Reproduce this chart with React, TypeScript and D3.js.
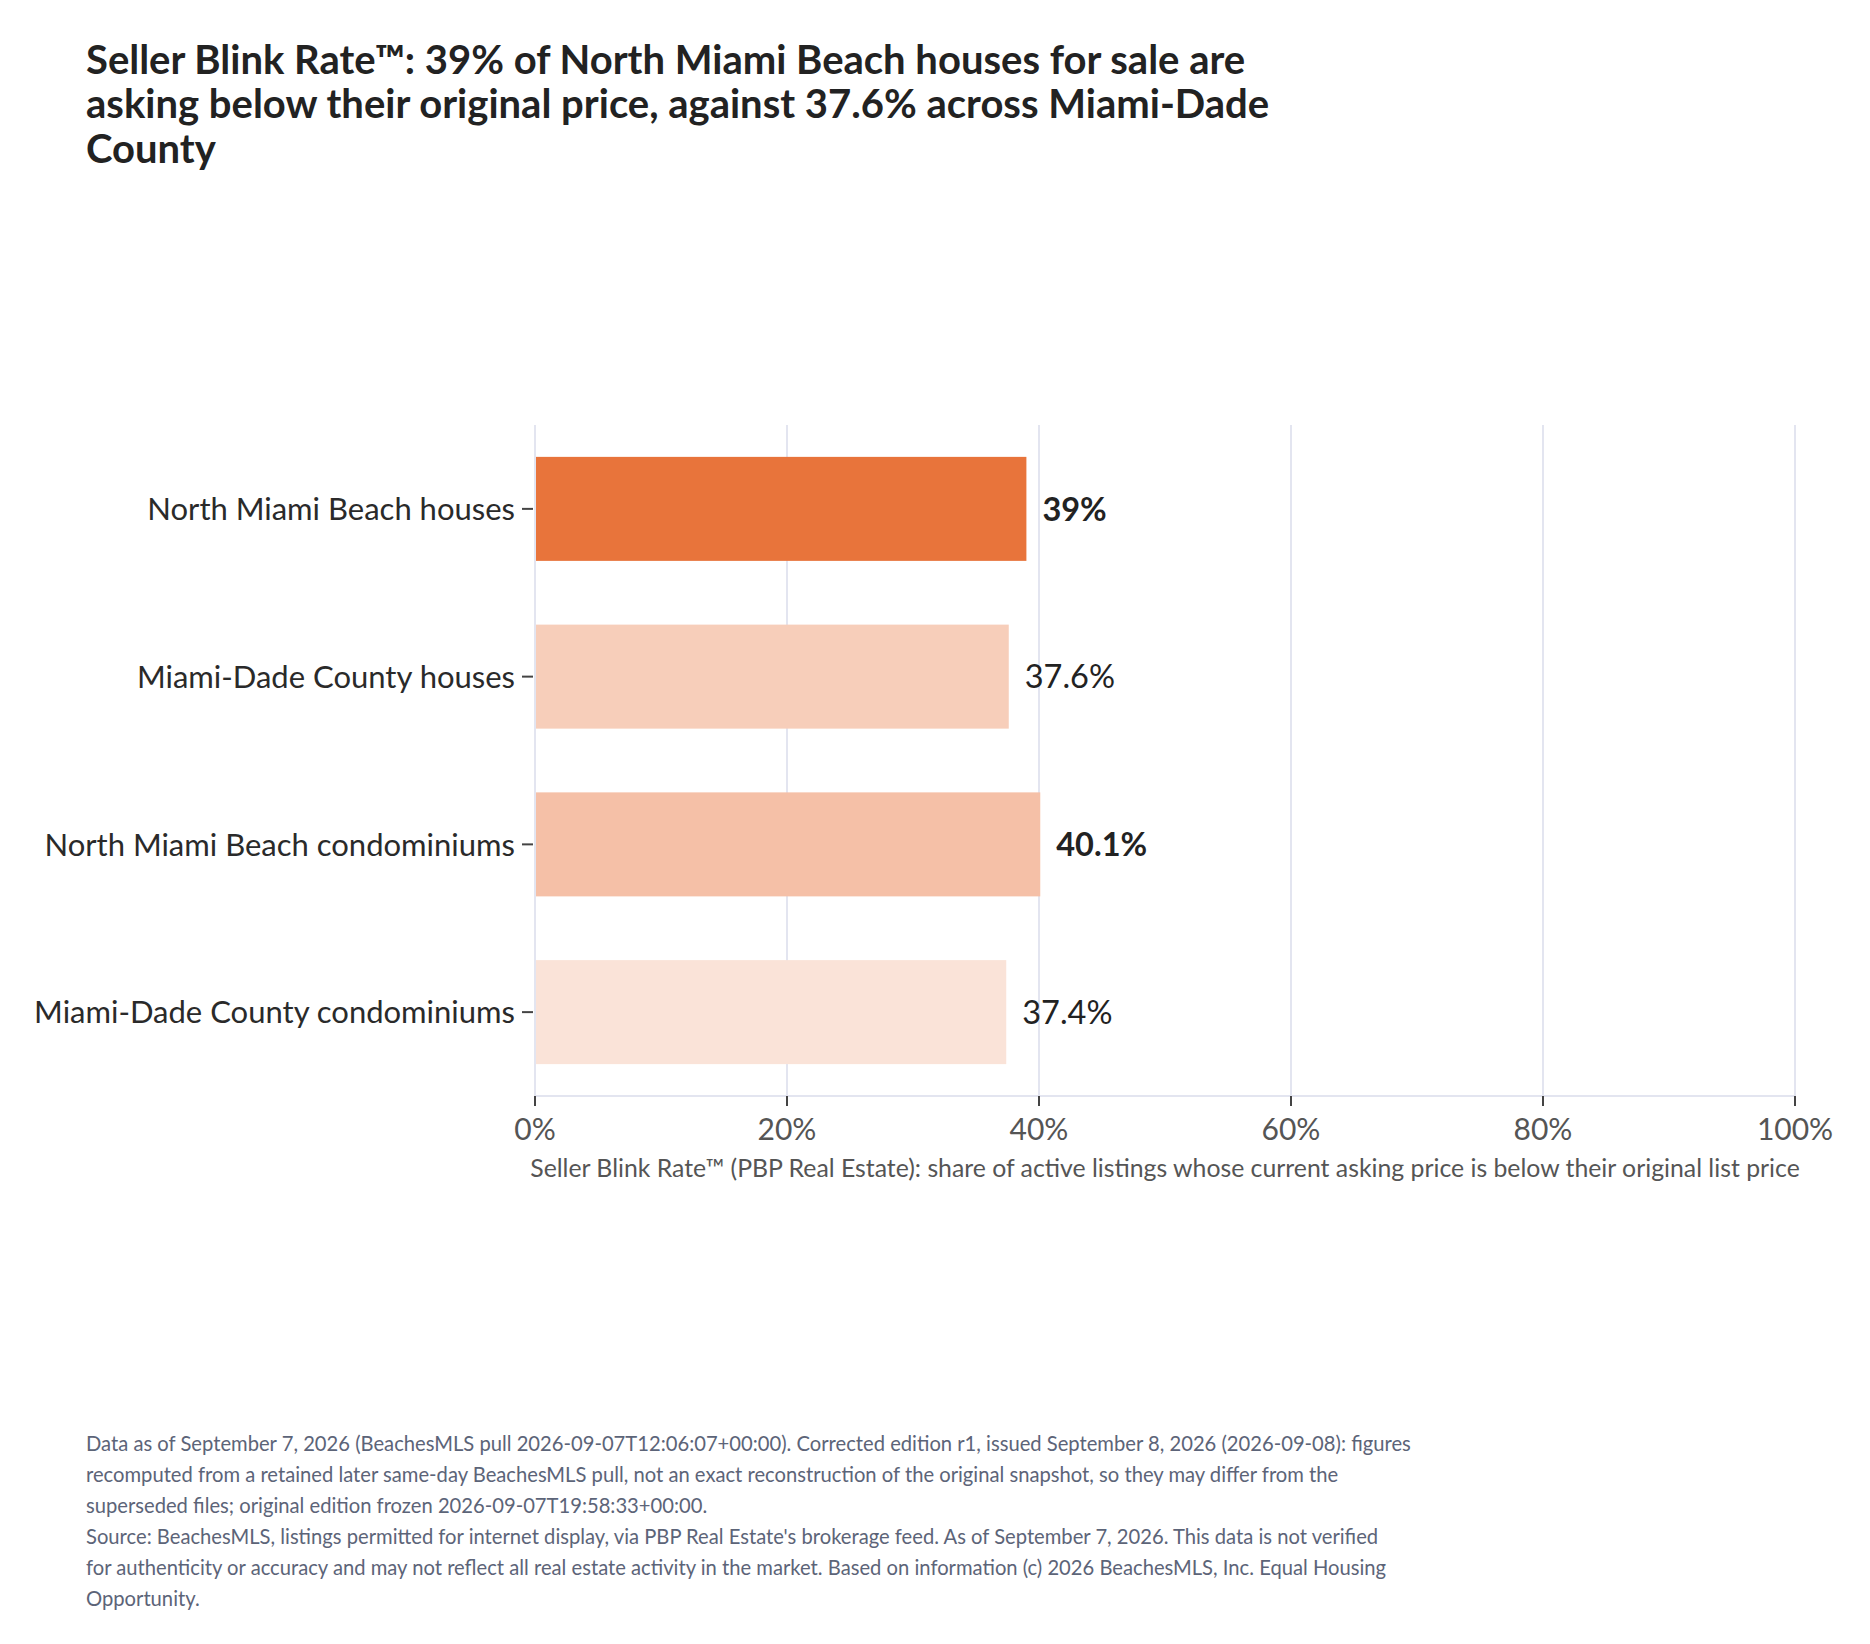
import React from "react";
import * as d3 from "d3";

const categories = [
  "North Miami Beach houses",
  "Miami-Dade County houses",
  "North Miami Beach condominiums",
  "Miami-Dade County condominiums",
];
const values = [0.39, 0.376, 0.401, 0.374];
const valueLabels = ["39%", "37.6%", "40.1%", "37.4%"];
const boldLabel = [true, false, true, false];
const barStrength = [1, 0.35, 0.45, 0.2];
const xTicks = [0, 0.2, 0.4, 0.6, 0.8, 1.0];

const titleLines = [
  "Seller Blink Rate™: 39% of North Miami Beach houses for sale are",
  "asking below their original price, against 37.6% across Miami-Dade",
  "County",
];
const xAxisTitle =
  "Seller Blink Rate™ (PBP Real Estate): share of active listings whose current asking price is below their original list price";
const footerLines = [
  "Data as of September 7, 2026 (BeachesMLS pull 2026-09-07T12:06:07+00:00). Corrected edition r1, issued September 8, 2026 (2026-09-08): figures",
  "recomputed from a retained later same-day BeachesMLS pull, not an exact reconstruction of the original snapshot, so they may differ from the",
  "superseded files; original edition frozen 2026-09-07T19:58:33+00:00.",
  "Source: BeachesMLS, listings permitted for internet display, via PBP Real Estate's brokerage feed. As of September 7, 2026. This data is not verified",
  "for authenticity or accuracy and may not reflect all real estate activity in the market. Based on information (c) 2026 BeachesMLS, Inc. Equal Housing",
  "Opportunity.",
];

const W = 1870;
const H = 1644;
const plot = { left: 535, right: 1795, top: 425, bottom: 1096 };
const FONT = "Lato, 'Open Sans', sans-serif";
const BAR_COLOR = "#E8743B";
const GRID = "#E3E5F0";

export default function App() {
  const x = d3.scaleLinear().domain([0, 1]).range([plot.left, plot.right]);
  const y = d3
    .scaleBand<string>()
    .domain(categories)
    .range([plot.top, plot.bottom])
    .paddingInner(0.38)
    .paddingOuter(0.19);
  const fmt = d3.format(".0%");
  const mix = d3.interpolateRgb("#ffffff", BAR_COLOR);

  return (
    <svg
      width={W}
      height={H}
      viewBox={`0 0 ${W} ${H}`}
      style={{ position: "absolute", left: 0, top: 0, display: "block", background: "#fff" }}
      fontFamily={FONT}
    >
      <rect x={0} y={0} width={W} height={H} fill="#fff" />
      {/* title */}
      <text fill="#222" fontSize={40} fontWeight={700}>
        {titleLines.map((t, i) => (
          <tspan key={i} x={86} y={73.5 + i * 44.5}>
            {t}
          </tspan>
        ))}
      </text>

      {/* grid */}
      {xTicks.map((t) => (
        <line
          key={"g" + t}
          x1={x(t)}
          x2={x(t)}
          y1={plot.top}
          y2={plot.bottom}
          stroke={GRID}
          strokeWidth={2}
        />
      ))}
      <line x1={plot.left} x2={plot.right} y1={plot.bottom} y2={plot.bottom} stroke={GRID} strokeWidth={2} />

      {/* bars */}
      {categories.map((c, i) => (
        <rect
          key={c}
          x={x(0) + 1}
          y={y(c)!}
          width={x(values[i]) - x(0) - 1}
          height={y.bandwidth()}
          fill={mix(barStrength[i])}
        />
      ))}

      {/* value labels */}
      {categories.map((c, i) => (
        <text
          key={"v" + c}
          x={x(values[i]) + 16}
          y={y(c)! + y.bandwidth() / 2}
          dy="0.36em"
          fontSize={32.5}
          fontWeight={boldLabel[i] ? 700 : 400}
          fill="#222"
        >
          {valueLabels[i]}
        </text>
      ))}

      {/* y axis ticks + labels */}
      {categories.map((c) => {
        const cy = y(c)! + y.bandwidth() / 2;
        return (
          <g key={"y" + c}>
            <line x1={522} x2={533} y1={cy} y2={cy} stroke="#444" strokeWidth={2} />
            <text x={515} y={cy} dy="0.36em" textAnchor="end" fontSize={31} fill="#2a2a2a">
              {c}
            </text>
          </g>
        );
      })}

      {/* x axis ticks + labels */}
      {xTicks.map((t) => (
        <g key={"x" + t}>
          <line x1={x(t)} x2={x(t)} y1={plot.bottom} y2={plot.bottom + 10} stroke="#444" strokeWidth={2} />
          <text x={x(t)} y={1140} textAnchor="middle" fontSize={30} fill="#555">
            {fmt(t)}
          </text>
        </g>
      ))}
      <text x={(plot.left + plot.right) / 2} y={1177} textAnchor="middle" fontSize={24.8} fill="#555">
        {xAxisTitle}
      </text>

      {/* footer */}
      <text fill="#5C6478" fontSize={20.2}>
        {footerLines.map((t, i) => (
          <tspan key={i} x={86} y={1450.7 + i * 31}>
            {t}
          </tspan>
        ))}
      </text>
    </svg>
  );
}
